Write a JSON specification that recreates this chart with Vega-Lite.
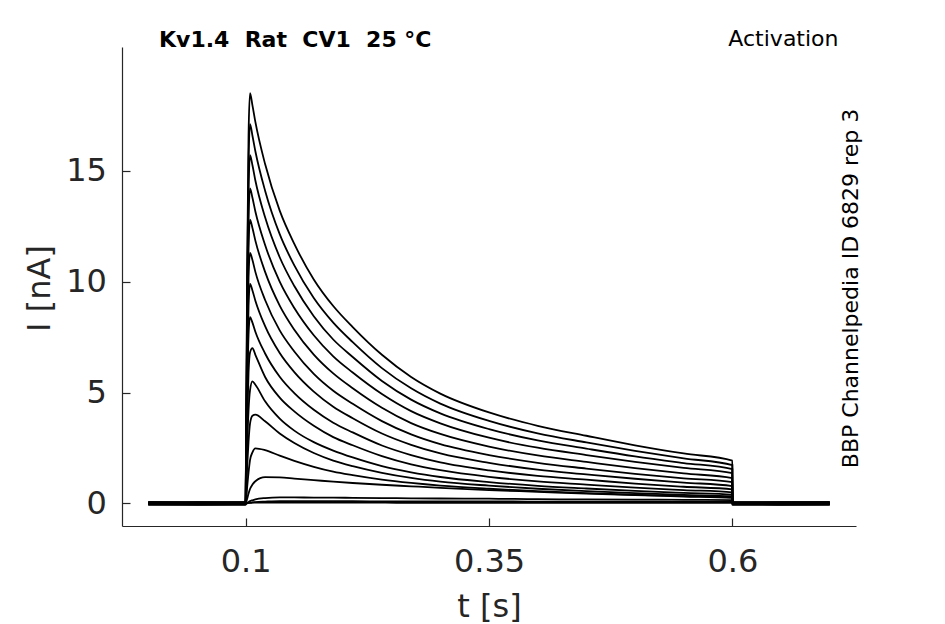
{
  "$schema": "https://vega.github.io/schema/vega-lite/v6.json",
  "width": 734,
  "height": 479,
  "autosize": {"type": "none"},
  "padding": {"left": 122, "top": 47, "right": 89, "bottom": 98},
  "background": "white",
  "title": {
    "text": "Kv1.4\u00a0\u00a0Rat\u00a0\u00a0CV1\u00a0\u00a025\u00a0°C",
    "anchor": "start",
    "frame": "group",
    "dx": 37,
    "offset": -41,
    "baseline": "alphabetic",
    "font": "DejaVu Sans",
    "fontSize": 22,
    "fontWeight": "bold",
    "color": "black"
  },
  "config": {
    "view": {"stroke": null},
    "axis": {
      "grid": false,
      "domainColor": "#262626",
      "tickColor": "#262626",
      "labelColor": "#262626",
      "titleColor": "#262626",
      "labelFont": "DejaVu Sans",
      "titleFont": "DejaVu Sans",
      "labelFontSize": 32,
      "titleFontSize": 32,
      "titleFontWeight": "normal",
      "domainWidth": 1.2,
      "tickWidth": 1.2,
      "tickSize": -8
    }
  },
  "resolve": {"axis": {"x": "independent", "y": "independent"}},
  "layer": [
    {
      "data": {
        "values": [
          {"t": 0, "a": 0.03, "b": -0.04, "c": 0.05, "d": -0.02, "e": 0.01, "f": -0.05, "g": 0.04, "h": -0.01, "i": 0.02, "j": -0.03, "k": 0.06, "l": -0.06, "m": 0, "n": 0.03, "o": -0.02, "p": 0.01},
          {"t": 0.05, "a": 0.02, "b": -0.05, "c": 0.04, "d": -0.03, "e": 0.02, "f": -0.06, "g": 0.05, "h": 0, "i": 0.01, "j": -0.04, "k": 0.05, "l": -0.05, "m": 0.01, "n": 0.02, "o": -0.01, "p": 0},
          {"t": 0.1, "a": 0.03, "b": -0.04, "c": 0.05, "d": -0.02, "e": 0.01, "f": -0.05, "g": 0.04, "h": -0.01, "i": 0.02, "j": -0.03, "k": 0.06, "l": -0.06, "m": 0, "n": 0.03, "o": -0.02, "p": 0.01},
          {"t": 0.1015, "a": 10.2, "b": 9.4, "c": 8.6, "d": 7.8, "e": 7.0, "f": 6.2, "g": 5.4, "h": 4.6, "i": 3.5, "j": 2.5, "k": 1.6, "l": 0.7, "m": 0.2, "n": 0.03, "o": 0, "p": 0.01},
          {"t": 0.103, "a": 16.6, "b": 15.4, "c": 14.1, "d": 12.8, "e": 11.5, "f": 10.2, "g": 8.9, "h": 7.6, "i": 5.9, "j": 4.2, "k": 2.8, "l": 1.4, "m": 0.45, "n": 0.06, "o": 0.02, "p": 0.02},
          {"t": 0.1045, "a": 18.5, "b": 17.1, "c": 15.7, "d": 14.2, "e": 12.8, "f": 11.3, "g": 9.9, "h": 8.4, "i": 6.8, "j": 5.1, "k": 3.6, "l": 1.95, "m": 0.65, "n": 0.1, "o": 0.03, "p": 0.02},
          {"t": 0.107, "a": 17.95, "b": 16.58, "c": 15.25, "d": 13.78, "e": 12.42, "f": 10.97, "g": 9.6, "h": 8.15, "i": 7.0, "j": 5.5, "k": 3.95, "l": 2.3, "m": 0.85, "n": 0.14, "o": 0.05, "p": 0.03},
          {"t": 0.11, "a": 17.2, "b": 15.88, "c": 14.56, "d": 13.16, "e": 11.85, "f": 10.44, "g": 9.14, "h": 7.74, "i": 6.7, "j": 5.35, "k": 4.0, "l": 2.48, "m": 1.0, "n": 0.18, "o": 0.06, "p": 0.03},
          {"t": 0.12, "a": 15.3, "b": 14.1, "c": 12.9, "d": 11.65, "e": 10.44, "f": 9.17, "g": 7.99, "h": 6.76, "i": 5.7, "j": 4.6, "k": 3.7, "l": 2.4, "m": 1.18, "n": 0.24, "o": 0.08, "p": 0.03},
          {"t": 0.135, "a": 13.2, "b": 12.14, "c": 11.1, "d": 10.0, "e": 8.92, "f": 7.8, "g": 6.78, "h": 5.71, "i": 4.77, "j": 3.82, "k": 3.15, "l": 2.15, "m": 1.17, "n": 0.27, "o": 0.1, "p": 0.03},
          {"t": 0.15, "a": 11.7, "b": 10.73, "c": 9.8, "d": 8.81, "e": 7.83, "f": 6.85, "g": 5.92, "h": 4.97, "i": 4.15, "j": 3.28, "k": 2.72, "l": 1.92, "m": 1.12, "n": 0.27, "o": 0.1, "p": 0.03},
          {"t": 0.17, "a": 10.1, "b": 9.26, "c": 8.44, "d": 7.58, "e": 6.71, "f": 5.84, "g": 5.04, "h": 4.22, "i": 3.5, "j": 2.76, "k": 2.27, "l": 1.65, "m": 1.05, "n": 0.26, "o": 0.1, "p": 0.03},
          {"t": 0.19, "a": 8.9, "b": 8.15, "c": 7.39, "d": 6.63, "e": 5.86, "f": 5.08, "g": 4.36, "h": 3.64, "i": 2.99, "j": 2.38, "k": 1.93, "l": 1.43, "m": 0.98, "n": 0.26, "o": 0.1, "p": 0.03},
          {"t": 0.21, "a": 7.95, "b": 7.27, "c": 6.6, "d": 5.9, "e": 5.19, "f": 4.49, "g": 3.84, "h": 3.2, "i": 2.62, "j": 2.07, "k": 1.68, "l": 1.27, "m": 0.92, "n": 0.25, "o": 0.1, "p": 0.03},
          {"t": 0.24, "a": 6.7, "b": 6.1, "c": 5.52, "d": 4.93, "e": 4.31, "f": 3.71, "g": 3.15, "h": 2.61, "i": 2.13, "j": 1.68, "k": 1.38, "l": 1.07, "m": 0.84, "n": 0.24, "o": 0.09, "p": 0.03},
          {"t": 0.27, "a": 5.7, "b": 5.19, "c": 4.68, "d": 4.16, "e": 3.62, "f": 3.11, "g": 2.64, "h": 2.18, "i": 1.76, "j": 1.4, "k": 1.15, "l": 0.92, "m": 0.77, "n": 0.23, "o": 0.09, "p": 0.02},
          {"t": 0.3, "a": 4.95, "b": 4.5, "c": 4.06, "d": 3.61, "e": 3.13, "f": 2.67, "g": 2.25, "h": 1.85, "i": 1.5, "j": 1.19, "k": 0.98, "l": 0.8, "m": 0.7, "n": 0.22, "o": 0.09, "p": 0.02},
          {"t": 0.35, "a": 4.1, "b": 3.72, "c": 3.35, "d": 2.96, "e": 2.56, "f": 2.18, "g": 1.83, "h": 1.49, "i": 1.2, "j": 0.96, "k": 0.8, "l": 0.66, "m": 0.6, "n": 0.21, "o": 0.09, "p": 0.02},
          {"t": 0.4, "a": 3.5, "b": 3.16, "c": 2.84, "d": 2.51, "e": 2.16, "f": 1.83, "g": 1.52, "h": 1.24, "i": 0.99, "j": 0.79, "k": 0.66, "l": 0.55, "m": 0.52, "n": 0.19, "o": 0.08, "p": 0.02},
          {"t": 0.45, "a": 3.05, "b": 2.75, "c": 2.47, "d": 2.18, "e": 1.87, "f": 1.57, "g": 1.31, "h": 1.07, "i": 0.85, "j": 0.67, "k": 0.55, "l": 0.46, "m": 0.44, "n": 0.18, "o": 0.08, "p": 0.02},
          {"t": 0.5, "a": 2.62, "b": 2.37, "c": 2.12, "d": 1.87, "e": 1.59, "f": 1.33, "g": 1.11, "h": 0.89, "i": 0.71, "j": 0.56, "k": 0.46, "l": 0.39, "m": 0.37, "n": 0.17, "o": 0.08, "p": 0.02},
          {"t": 0.55, "a": 2.25, "b": 2.03, "c": 1.82, "d": 1.6, "e": 1.35, "f": 1.13, "g": 0.94, "h": 0.75, "i": 0.6, "j": 0.47, "k": 0.38, "l": 0.33, "m": 0.31, "n": 0.16, "o": 0.07, "p": 0.02},
          {"t": 0.6, "a": 1.93, "b": 1.73, "c": 1.54, "d": 1.36, "e": 1.14, "f": 0.96, "g": 0.78, "h": 0.63, "i": 0.5, "j": 0.39, "k": 0.31, "l": 0.27, "m": 0.25, "n": 0.15, "o": 0.07, "p": 0.02},
          {"t": 0.6001, "a": 0.03, "b": -0.04, "c": 0.05, "d": -0.02, "e": 0.01, "f": -0.05, "g": 0.04, "h": -0.01, "i": 0.02, "j": -0.03, "k": 0.06, "l": -0.06, "m": 0, "n": 0.03, "o": -0.02, "p": 0.01},
          {"t": 0.65, "a": 0.02, "b": -0.05, "c": 0.04, "d": -0.03, "e": 0.02, "f": -0.06, "g": 0.05, "h": 0, "i": 0.01, "j": -0.04, "k": 0.05, "l": -0.05, "m": 0.01, "n": 0.02, "o": -0.01, "p": 0},
          {"t": 0.7, "a": 0.03, "b": -0.04, "c": 0.05, "d": -0.02, "e": 0.01, "f": -0.05, "g": 0.04, "h": -0.01, "i": 0.02, "j": -0.03, "k": 0.06, "l": -0.06, "m": 0, "n": 0.03, "o": -0.02, "p": 0.01}
        ]
      },
      "transform": [
        {"fold": ["a", "b", "c", "d", "e", "f", "g", "h", "i", "j", "k", "l", "m", "n", "o", "p"], "as": ["trace", "I"]}
      ],
      "mark": {"type": "line", "color": "black", "strokeWidth": 1.8, "interpolate": "monotone"},
      "encoding": {
        "x": {
          "field": "t",
          "type": "quantitative",
          "scale": {"domain": [-0.027, 0.727], "nice": false, "zero": false},
          "axis": {
            "orient": "bottom",
            "values": [0.1, 0.35, 0.6],
            "format": ".2~f",
            "title": "t [s]",
            "labelPadding": 28,
            "titleX": 367,
            "titleY": 90,
            "titleAlign": "center",
            "titleBaseline": "alphabetic"
          }
        },
        "y": {
          "field": "I",
          "type": "quantitative",
          "scale": {"domain": [-1.02, 20.58], "nice": false, "zero": false},
          "axis": {
            "orient": "left",
            "values": [0, 5, 10, 15],
            "format": "d",
            "title": "I [nA]",
            "labelPadding": 23.6,
            "titleX": -72.8,
            "titleY": 241,
            "titleAngle": 270,
            "titleAlign": "center",
            "titleBaseline": "alphabetic"
          }
        },
        "detail": {"field": "trace"}
      }
    },
    {
      "data": {"values": [{}]},
      "mark": {"type": "text", "text": ""},
      "encoding": {
        "x": {
          "datum": 0.35,
          "type": "quantitative",
          "axis": {
            "orient": "top",
            "domain": false,
            "ticks": false,
            "labels": false,
            "title": "Activation",
            "titleX": 716,
            "titleY": -1.3,
            "titleAlign": "right",
            "titleBaseline": "alphabetic",
            "titleFontSize": 22,
            "titleColor": "black"
          }
        },
        "y": {
          "datum": 5,
          "type": "quantitative",
          "axis": {
            "orient": "right",
            "domain": false,
            "ticks": false,
            "labels": false,
            "title": "BBP Channelpedia ID 6829 rep 3",
            "titleX": 1.7,
            "titleY": 241,
            "titleAngle": 270,
            "titleAlign": "center",
            "titleBaseline": "alphabetic",
            "titleFontSize": 22,
            "titleColor": "black"
          }
        }
      }
    }
  ]
}
